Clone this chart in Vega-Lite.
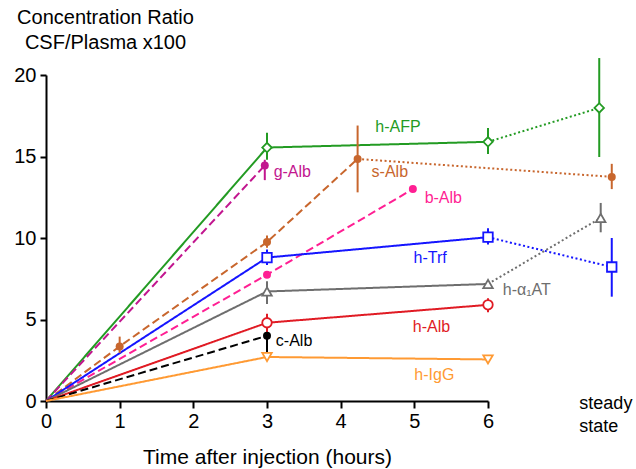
{
  "$schema": "https://vega.github.io/schema/vega-lite/v6.json",
  "width": 442,
  "height": 326,
  "autosize": {"type": "none"},
  "padding": {"left": 46, "top": 75, "right": 148, "bottom": 68},
  "background": "white",
  "config": {
    "view": {"stroke": null},
    "font": "Liberation Sans",
    "text": {"font": "Liberation Sans"},
    "axis": {"labelFont": "Liberation Sans", "titleFont": "Liberation Sans"}
  },
  "datasets": {
    "lines": [
      {"s": "h-AFP", "g": "h-AFP", "link": "human", "x": 0, "y": 0},
      {"s": "h-AFP", "g": "h-AFP", "link": "human", "x": 3, "y": 15.55},
      {"s": "h-AFP", "g": "h-AFP", "link": "human", "x": 6, "y": 15.9},
      {"s": "h-AFP", "g": "h-AFP ss", "link": "steady", "x": 6, "y": 15.9},
      {"s": "h-AFP", "g": "h-AFP ss", "link": "steady", "x": 7.51, "y": 17.98},
      {"s": "g-Alb", "g": "g-Alb", "link": "other", "x": 0, "y": 0},
      {"s": "g-Alb", "g": "g-Alb", "link": "other", "x": 2.97, "y": 14.45},
      {"s": "s-Alb", "g": "s-Alb", "link": "other", "x": 0, "y": 0},
      {"s": "s-Alb", "g": "s-Alb", "link": "other", "x": 1, "y": 3.35},
      {"s": "s-Alb", "g": "s-Alb", "link": "other", "x": 3, "y": 9.75},
      {"s": "s-Alb", "g": "s-Alb", "link": "other", "x": 4.23, "y": 14.85},
      {"s": "s-Alb", "g": "s-Alb ss", "link": "steady", "x": 4.23, "y": 14.85},
      {"s": "s-Alb", "g": "s-Alb ss", "link": "steady", "x": 7.68, "y": 13.75},
      {"s": "b-Alb", "g": "b-Alb", "link": "other", "x": 0, "y": 0},
      {"s": "b-Alb", "g": "b-Alb", "link": "other", "x": 3, "y": 7.75},
      {"s": "b-Alb", "g": "b-Alb", "link": "other", "x": 4.98, "y": 13.0},
      {"s": "h-Trf", "g": "h-Trf", "link": "human", "x": 0, "y": 0},
      {"s": "h-Trf", "g": "h-Trf", "link": "human", "x": 3, "y": 8.8},
      {"s": "h-Trf", "g": "h-Trf", "link": "human", "x": 6, "y": 10.05},
      {"s": "h-Trf", "g": "h-Trf ss", "link": "steady", "x": 6, "y": 10.05},
      {"s": "h-Trf", "g": "h-Trf ss", "link": "steady", "x": 7.68, "y": 8.22},
      {"s": "h-α1AT", "g": "h-α1AT", "link": "human", "x": 0, "y": 0},
      {"s": "h-α1AT", "g": "h-α1AT", "link": "human", "x": 3, "y": 6.72},
      {"s": "h-α1AT", "g": "h-α1AT", "link": "human", "x": 6, "y": 7.18},
      {"s": "h-α1AT", "g": "h-α1AT ss", "link": "steady", "x": 6, "y": 7.18},
      {"s": "h-α1AT", "g": "h-α1AT ss", "link": "steady", "x": 7.53, "y": 11.23},
      {"s": "h-Alb", "g": "h-Alb", "link": "human", "x": 0, "y": 0},
      {"s": "h-Alb", "g": "h-Alb", "link": "human", "x": 3, "y": 4.8},
      {"s": "h-Alb", "g": "h-Alb", "link": "human", "x": 6, "y": 5.9},
      {"s": "c-Alb", "g": "c-Alb", "link": "other", "x": 0, "y": 0},
      {"s": "c-Alb", "g": "c-Alb", "link": "other", "x": 3, "y": 4.0},
      {"s": "h-IgG", "g": "h-IgG", "link": "human", "x": 0, "y": 0},
      {"s": "h-IgG", "g": "h-IgG", "link": "human", "x": 3, "y": 2.7},
      {"s": "h-IgG", "g": "h-IgG", "link": "human", "x": 6, "y": 2.55}
    ],
    "points": [
      {"s": "h-AFP", "x": 3, "y": 15.55, "lo": 14.8, "hi": 16.45},
      {"s": "h-AFP", "x": 6, "y": 15.9, "lo": 15.15, "hi": 16.75},
      {"s": "h-AFP", "x": 7.51, "y": 17.98, "lo": 14.97, "hi": 21.04},
      {"s": "g-Alb", "x": 2.97, "y": 14.45, "lo": 13.55, "hi": 14.8},
      {"s": "s-Alb", "x": 1, "y": 3.35, "lo": 2.95, "hi": 3.95},
      {"s": "s-Alb", "x": 3, "y": 9.75, "lo": 9.4, "hi": 10.15},
      {"s": "s-Alb", "x": 4.23, "y": 14.85, "lo": 12.8, "hi": 16.9},
      {"s": "s-Alb", "x": 7.68, "y": 13.75, "lo": 13.0, "hi": 14.55},
      {"s": "b-Alb", "x": 3, "y": 7.75, "lo": null, "hi": null},
      {"s": "b-Alb", "x": 4.98, "y": 13.0, "lo": null, "hi": null},
      {"s": "h-Trf", "x": 3, "y": 8.8, "lo": 8.35, "hi": 9.3},
      {"s": "h-Trf", "x": 6, "y": 10.05, "lo": 9.6, "hi": 10.6},
      {"s": "h-Trf", "x": 7.68, "y": 8.22, "lo": 6.4, "hi": 10.0},
      {"s": "h-α1AT", "x": 3, "y": 6.72, "lo": 5.95, "hi": 7.35},
      {"s": "h-α1AT", "x": 6, "y": 7.18, "lo": null, "hi": null},
      {"s": "h-α1AT", "x": 7.53, "y": 11.23, "lo": 10.35, "hi": 12.15},
      {"s": "h-Alb", "x": 3, "y": 4.8, "lo": 4.15, "hi": 5.35},
      {"s": "h-Alb", "x": 6, "y": 5.9, "lo": 5.45, "hi": 6.3},
      {"s": "c-Alb", "x": 3, "y": 4.0, "lo": 2.95, "hi": 4.0},
      {"s": "h-IgG", "x": 3, "y": 2.7, "lo": null, "hi": null},
      {"s": "h-IgG", "x": 6, "y": 2.55, "lo": null, "hi": null}
    ],
    "labels": [
      {"s": "h-AFP", "label": "h-AFP", "x": 4.47, "y": 16.81},
      {"s": "g-Alb", "label": "g-Alb", "x": 3.09, "y": 14.05},
      {"s": "s-Alb", "label": "s-Alb", "x": 4.42, "y": 14.05},
      {"s": "b-Alb", "label": "b-Alb", "x": 5.14, "y": 12.45},
      {"s": "h-Trf", "label": "h-Trf", "x": 4.99, "y": 8.77},
      {"s": "h-α1AT", "label": "h-α₁AT", "x": 6.2, "y": 6.81},
      {"s": "h-Alb", "label": "h-Alb", "x": 4.98, "y": 4.54},
      {"s": "c-Alb", "label": "c-Alb", "x": 3.12, "y": 3.68},
      {"s": "h-IgG", "label": "h-IgG", "x": 5.0, "y": 1.6}
    ],
    "note": [
      {"label": "steady\nstate", "x": 7.24, "y": -0.2}
    ]
  },
  "encoding": {
    "x": {
      "field": "x", "type": "quantitative",
      "scale": {"domain": [0, 6], "nice": false, "zero": false},
      "axis": {
        "title": "Time after injection (hours)",
        "values": [0, 1, 2, 3, 4, 5, 6],
        "grid": false, "labelFlush": false,
        "domainColor": "black", "domainWidth": 2,
        "tickColor": "black", "tickWidth": 2, "tickSize": 7,
        "labelFontSize": 20, "labelColor": "black", "labelPadding": 3,
        "titleFontSize": 21, "titleFontWeight": "normal", "titleColor": "black", "titlePadding": 15
      }
    },
    "y": {
      "field": "y", "type": "quantitative",
      "scale": {"domain": [0, 20], "nice": false},
      "axis": {
        "title": ["Concentration Ratio", "CSF/Plasma x100"],
        "titleAngle": 0, "titleAlign": "center", "titleBaseline": "top",
        "titleX": 59, "titleY": -68, "titleLineHeight": 25,
        "titleFontSize": 20, "titleFontWeight": "normal", "titleColor": "black",
        "values": [0, 5, 10, 15, 20],
        "grid": false, "labelFlush": false,
        "domainColor": "black", "domainWidth": 2,
        "tickColor": "black", "tickWidth": 2, "tickSize": 6,
        "labelFontSize": 20, "labelColor": "black", "labelPadding": 4
      }
    }
  },
  "layer": [
    {
      "data": {"name": "lines"},
      "mark": {"type": "line", "strokeWidth": 2},
      "encoding": {
        "detail": {"field": "g"},
        "color": {
          "field": "s", "type": "nominal", "legend": null,
          "scale": {
            "domain": ["h-AFP", "g-Alb", "s-Alb", "b-Alb", "h-Trf", "h-α1AT", "h-Alb", "c-Alb", "h-IgG"],
            "range": ["#239b23", "#c2168f", "#c8662d", "#ff1f93", "#1515ff", "#6e6e6e", "#e01b24", "#000000", "#ff9a33"]
          }
        },
        "strokeDash": {
          "field": "link", "type": "nominal", "legend": null,
          "scale": {"domain": ["human", "other", "steady"], "range": [[1, 0], [8, 4], [2, 2.5]]}
        }
      }
    },
    {
      "data": {"name": "points"},
      "transform": [{"filter": "datum.lo != null"}],
      "mark": {"type": "rule", "strokeWidth": 2},
      "encoding": {
        "y": {"field": "lo", "type": "quantitative"},
        "y2": {"field": "hi"},
        "color": {"field": "s", "type": "nominal", "legend": null}
      }
    },
    {
      "data": {"name": "points"},
      "transform": [{"filter": {"field": "s", "oneOf": ["h-AFP", "h-Trf", "h-α1AT", "h-Alb", "h-IgG"]}}],
      "mark": {"type": "point", "filled": false, "fill": "white", "fillOpacity": 1, "opacity": 1, "strokeWidth": 1.8, "size": 90},
      "encoding": {
        "color": {"field": "s", "type": "nominal", "legend": null},
        "shape": {
          "field": "s", "type": "nominal", "legend": null,
          "scale": {
            "domain": ["h-AFP", "g-Alb", "s-Alb", "b-Alb", "h-Trf", "h-α1AT", "h-Alb", "c-Alb", "h-IgG"],
            "range": ["diamond", "circle", "circle", "circle", "square", "triangle-up", "circle", "circle", "triangle-down"]
          }
        }
      }
    },
    {
      "data": {"name": "points"},
      "transform": [{"filter": {"field": "s", "oneOf": ["g-Alb", "s-Alb", "b-Alb", "c-Alb"]}}],
      "mark": {"type": "point", "filled": true, "opacity": 1, "size": 64},
      "encoding": {
        "color": {"field": "s", "type": "nominal", "legend": null},
        "shape": {"field": "s", "type": "nominal", "legend": null}
      }
    },
    {
      "data": {"name": "labels"},
      "mark": {"type": "text", "align": "left", "baseline": "middle", "fontSize": 16},
      "encoding": {
        "text": {"field": "label"},
        "color": {"field": "s", "type": "nominal", "legend": null}
      }
    },
    {
      "data": {"name": "note"},
      "mark": {"type": "text", "align": "left", "baseline": "middle", "fontSize": 18, "lineBreak": "\n", "lineHeight": 23, "color": "black"},
      "encoding": {
        "text": {"field": "label"}
      }
    }
  ]
}
